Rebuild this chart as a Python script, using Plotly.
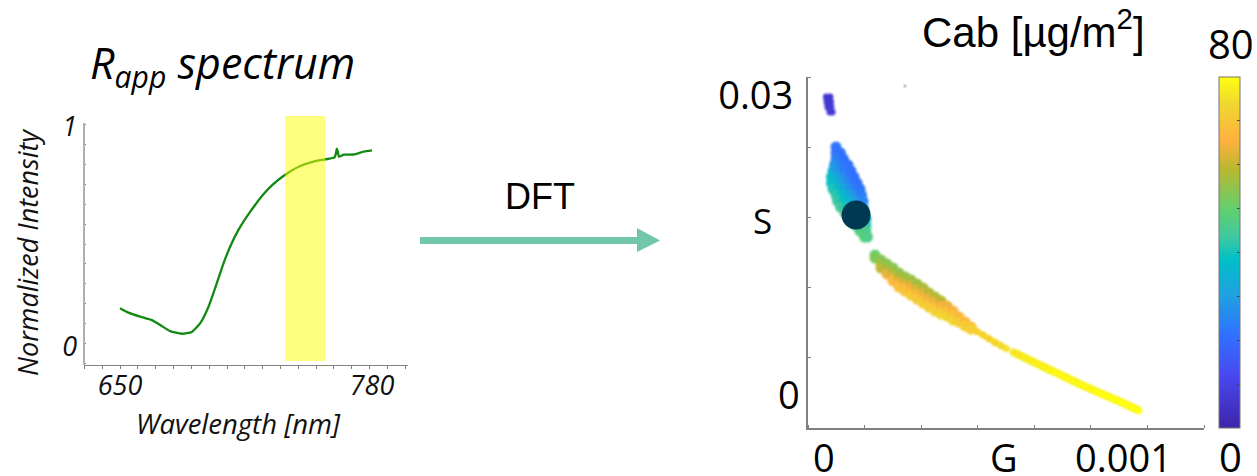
import plotly.graph_objects as go

W, H = 1257, 476

# ---------- left panel: R_app spectrum ----------
wavelength = [650.0, 654.3, 660.3, 666.4, 670.7, 675.8, 681.9, 687.0, 691.3, 695.6,
              699.9, 703.4, 706.8, 711.1, 717.2, 724.0, 729.2, 735.2, 743.0, 749.9,
              755.9, 760.7, 761.4, 761.9, 762.4, 763.0, 765.4, 770.5, 775.7, 780.0]
intensity = [0.176, 0.156, 0.138, 0.122, 0.100, 0.072, 0.060, 0.068, 0.107, 0.182,
             0.289, 0.380, 0.456, 0.532, 0.615, 0.694, 0.741, 0.783, 0.823, 0.843,
             0.853, 0.862, 0.880, 0.902, 0.888, 0.865, 0.874, 0.875, 0.888, 0.894]
band_start, band_end = 735.2, 755.9

# ---------- right panel: Cab over G/S (G in 1e-5, S in 1e-4) ----------
blob_a_g = [0.8, 2, 1, 2.2, 1.3, 2.3, 2, 2.7]
blob_a_s = [299, 299, 294, 294, 289, 289, 284, 284]
blob_a_cab = [6, 6, 6, 7, 7, 7, 7, 8]

blob_b_g = [4, 4, 5.5, 4, 6.5, 3.5, 6, 8, 3, 5, 7, 9, 2.5, 4.5, 6.5, 8.5, 10,
            2.5, 4.5, 6.5, 8.5, 10.5, 11, 3, 5, 7, 9, 11, 12,
            4, 6, 8, 10, 12, 12.5, 4.5, 6.5, 8.5, 10.5, 12.5, 13,
            5.5, 7.5, 9.5, 11.5, 13, 7, 9, 11, 13,
            8.5, 10.5, 12.5, 14, 10.5, 12.5, 14, 12, 14, 13.5, 14.5]
blob_b_s = [249, 243, 243, 237, 237, 231, 231, 231, 225, 225, 225, 225, 219, 219, 219, 219, 219,
            213, 213, 213, 213, 213, 213, 207, 207, 207, 207, 207, 207,
            201, 201, 201, 201, 201, 201, 195, 195, 195, 195, 195, 195,
            189, 189, 189, 189, 189, 183, 183, 183, 183,
            177, 177, 177, 177, 171, 171, 171, 165, 165, 159, 159]
blob_b_cab = [22, 22, 21, 24, 21, 27, 23, 21, 32, 26, 23, 21, 37, 32, 27, 23, 21,
              39, 35, 29, 25, 22, 21, 41, 36, 31, 26, 23, 22,
              42, 38, 33, 28, 24, 23, 43, 39, 35, 30, 26, 25,
              44, 40, 36, 31, 28, 45, 41, 37, 33,
              46, 43, 39, 36, 46, 44, 42, 47, 46, 48, 47]

blob_c_g = [17, 17, 19, 19, 19, 21, 21, 21, 23, 23, 23, 23, 25, 25, 25, 25,
            27, 27, 27, 27, 29, 29, 29, 29, 31, 31, 31, 31, 33, 33, 33, 33,
            35, 35, 35, 35, 37, 37, 37, 37, 39, 39, 39, 39,
            41, 41, 41, 43, 43, 43, 45, 45, 47, 47, 49, 49]
blob_c_s = [141, 138, 136, 132, 128, 132, 127, 122, 128, 123, 118, 115, 123, 118, 113, 109,
            119, 114, 109, 105, 116, 111, 106, 101, 112, 107, 102, 97, 108, 103, 98, 93,
            103, 98, 93, 89, 99, 94, 89, 85, 95, 90, 85, 82,
            90, 85, 80, 85, 81, 76, 79, 74, 74, 70, 69, 67]
blob_c_cab = [50, 53, 53, 56, 60, 54, 58, 64, 54, 58, 64, 67, 55, 59, 65, 69,
              55, 60, 66, 70, 56, 62, 66, 71, 56, 62, 67, 71, 57, 63, 67, 72,
              58, 64, 68, 72, 58, 65, 69, 73, 59, 65, 69, 73,
              64, 68, 73, 65, 69, 73, 67, 72, 67, 72, 68, 72]

taper_g = [49, 51, 53, 55, 57, 59, 61]
taper_s = [68, 64.5, 61, 57, 53, 50, 47]
taper_cab = [72, 72, 72, 72, 73, 74, 75]

tail_g = [63, 65, 67, 69, 71, 73, 75, 77, 79, 81, 83, 85, 87, 89,
          91, 93, 95, 97, 99, 101, 103, 105]
tail_s = [44, 41, 38, 35, 32, 29, 26, 24, 21, 18, 15, 12, 9.5, 7,
          4, 1.5, -1, -3.5, -6, -9, -12, -14.5]
tail_cab = [76, 76, 77, 77, 78, 78, 78, 79, 79, 79, 79, 79, 79, 79,
            80, 80, 80, 80, 80, 80, 80, 80]

marked_g, marked_s = [10.7], [181]
speck_g, speck_s = [27], [310]

colorscale = [[0.0, "#3F26A8"], [0.0125, "#3F28B0"], [0.15, "#4848F0"], [0.2625, "#3070FF"],
              [0.375, "#20A0E0"], [0.48, "#00C0C8"], [0.545, "#40C8A0"], [0.62, "#60D070"],
              [0.735, "#B8B830"], [0.82, "#FFB040"], [0.925, "#F0D830"], [1.0, "#FFFF10"]]

def e5(v): return [x * 1e-5 for x in v]
def e4(v): return [x * 1e-4 for x in v]
def px(x): return x / W
def py(y): return 1 - y / H

OS = "Open Sans"
AR = "Liberation Sans"

fig = go.Figure()
fig.add_trace(go.Scatter(x=wavelength, y=intensity, mode="lines", xaxis="x", yaxis="y",
                         line=dict(color="#128A12", width=2.3, shape="spline", smoothing=0.5)))

def blob(g, s, c, size):
    fig.add_trace(go.Scatter(x=e5(g), y=e4(s), mode="markers", xaxis="x2", yaxis="y2",
                             marker=dict(color=c, coloraxis="coloraxis", size=size, line=dict(width=0))))

fig.add_trace(go.Scatter(x=e5(tail_g), y=e4(tail_s), mode="lines", xaxis="x2", yaxis="y2",
                         line=dict(color="#F8EC08", width=7)))
fig.add_trace(go.Scatter(x=e5(taper_g), y=e4(taper_s), mode="lines", xaxis="x2", yaxis="y2",
                         line=dict(color="#FBDC18", width=5.5)))
blob(blob_a_g, blob_a_s, blob_a_cab, 7)
blob(blob_b_g, blob_b_s, blob_b_cab, 11)
blob(blob_c_g, blob_c_s, blob_c_cab, 11)
blob(taper_g, taper_s, taper_cab, 6)
blob(tail_g, tail_s, tail_cab, 7)
fig.add_trace(go.Scatter(x=e5(speck_g), y=e4(speck_s), mode="markers", xaxis="x2", yaxis="y2",
                         marker=dict(color="#C8C8C8", size=3, symbol="square", line=dict(width=0))))
fig.add_trace(go.Scatter(x=e5(marked_g), y=e4(marked_s), mode="markers", xaxis="x2", yaxis="y2",
                         marker=dict(color="#003A52", size=29, line=dict(width=0))))

axis_grey = "#808080"
fig.update_layout(
    width=W, height=H, margin=dict(l=0, r=0, t=0, b=0, autoexpand=False),
    paper_bgcolor="white", plot_bgcolor="white", showlegend=False,
    xaxis=dict(domain=[px(84), px(408)], range=[631.4, 798.6], anchor="y",
               tickmode="array", tickvals=[650, 780], ticktext=["650", "780"],
               ticks="", ticklabelstandoff=-3, showgrid=False, zeroline=False,
               showline=True, linecolor=axis_grey, linewidth=1,
               tickfont=dict(family=OS, size=27, style="italic", color="#111"),
               minor=dict(tick0=650, dtick=9.2, ticks="outside", ticklen=3,
                          tickcolor=axis_grey, tickwidth=1)),
    yaxis=dict(domain=[py(365), py(116)], range=[-0.082, 1.05], anchor="x",
               tickmode="array", tickvals=[0, 1], ticktext=["0", "1"],
               ticks="", ticklabelstandoff=6, showgrid=False, zeroline=False, showline=False,
               tickfont=dict(family=OS, size=27, style="italic", color="#111"),
               minor=dict(tick0=0.0136, dtick=0.0909, ticks="inside", ticklen=2,
                          tickcolor=axis_grey, tickwidth=1)),
    xaxis2=dict(domain=[px(808), px(1204)], range=[-5.33e-5, 126.67e-5], anchor="y2",
                showticklabels=False, ticks="", showgrid=False, zeroline=False,
                showline=True, linecolor=axis_grey, linewidth=1.5,
                minor=dict(tick0=-5.33e-5, dtick=18.857e-5, ticks="inside", ticklen=3,
                           tickcolor=axis_grey, tickwidth=1)),
    yaxis2=dict(domain=[py(428), py(77)], range=[-0.0032, 0.0319], anchor="x2",
                tickmode="array", tickvals=[0, 0.03], ticktext=["0", "0.03\u2009"],
                ticks="", ticklabelstandoff=-1, showgrid=False, zeroline=False,
                showline=True, linecolor=axis_grey, linewidth=1.5,
                tickfont=dict(family=OS, size=38, color="#000"),
                minor=dict(tick0=-0.0032, dtick=0.00702, ticks="inside", ticklen=3,
                           tickcolor=axis_grey, tickwidth=1)),
    coloraxis=dict(cmin=0, cmax=80, colorscale=colorscale,
                   colorbar=dict(x=px(1219), xanchor="left", y=py(428), yanchor="bottom",
                                 len=351 / H, lenmode="fraction", thickness=21, thicknessmode="pixels",
                                 xpad=0, ypad=0, outlinecolor="#777", outlinewidth=1,
                                 tick0=0, dtick=10, ticks="inside", ticklen=3, tickcolor="#444",
                                 showticklabels=False)),
)

fig.add_shape(type="rect", xref="x", yref="y", x0=band_start, x1=band_end, y0=-0.064, y1=1.05,
              fillcolor="rgba(255,255,0,0.5)", line=dict(width=0), layer="above")
fig.add_shape(type="line", xref="paper", yref="y", x0=px(84), x1=px(84), y0=-0.082, y1=1.018,
              line=dict(color="#B0B0B0", width=2), layer="above")
fig.add_shape(type="path", xref="paper", yref="paper",
              path=f"M{px(420)},{py(237)} L{px(637)},{py(237)} L{px(637)},{py(228)} L{px(660)},{py(240.5)} "
                   f"L{px(637)},{py(252)} L{px(637)},{py(244)} L{px(420)},{py(244)} Z",
              fillcolor="#72C7AA", line=dict(width=0), layer="above")

def note(text, x, y, family, size, style="normal", angle=0, color="#000"):
    fig.add_annotation(text=text, x=px(x), y=py(y), xref="paper", yref="paper", showarrow=False,
                       xanchor="center", yanchor="middle", textangle=angle,
                       font=dict(family=family, size=size, style=style, color=color))

def xlabel2(text, g):
    fig.add_annotation(text=text, x=g, y=py(457), xref="x2", yref="paper", showarrow=False,
                       xanchor="center", yanchor="middle", font=dict(family=OS, size=38, color="#000"))

xlabel2("0", 0)
xlabel2("G", 60e-5)
xlabel2("0.001", 100e-5)

note("R<sub>app</sub> spectrum", 222, 65, OS, 43, "italic")
note("Normalized Intensity", 27, 253, OS, 27, "italic", -90, "#111")
note("Wavelength [nm]", 238, 423, OS, 27.5, "italic", 0, "#111")
note("DFT", 540, 196, AR, 36)
note("Cab [µg/m<sup>2</sup>]", 1033, 29, AR, 42)
note("S", 762, 220, OS, 35)
note("80", 1231, 43, OS, 40)
note("0", 1230, 456, OS, 40)

blur_js = """
document.body.style.margin='0';
document.querySelectorAll('.subplot.x2y2 .scatterlayer .trace').forEach(function(t,i){
  if(i<7){t.style.filter='blur(1.1px)';}
});
"""
fig.write_html("out.html", post_script=blur_js, config={"displayModeBar": False})
